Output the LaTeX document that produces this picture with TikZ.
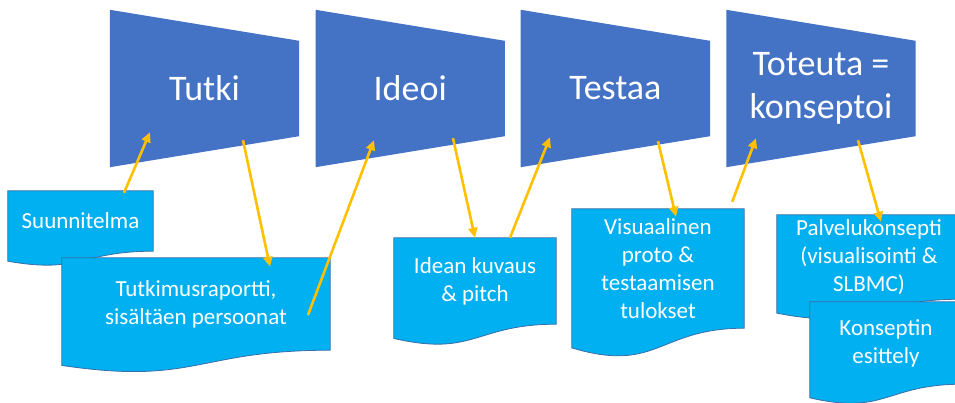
\documentclass[tikz,border=0pt]{standalone}
\usepackage{fontspec}
\setmainfont{Carlito}
\usetikzlibrary{arrows.meta,calc,positioning}
\definecolor{stageblue}{HTML}{4472C4}
\definecolor{doccyan}{HTML}{00B0F0}
\definecolor{docedge}{HTML}{3A6EA8}
\definecolor{arrowgold}{HTML}{FFC000}
\pgfdeclarelayer{background}
\pgfsetlayers{background,main}

\begin{document}
\begin{tikzpicture}[x=1pt,y=-1pt,>={Triangle[length=10pt,width=9pt]},
  stage/.style={minimum width=189pt,minimum height=157pt,inner sep=0pt,
    text=white,align=center,font=\fontsize{36}{43}\selectfont},
  doc/.style={inner sep=0pt,text=white,align=center,
    font=\fontsize{23}{28}\selectfont},
  docshape/.style={fill=doccyan,draw=docedge,line width=0.8pt},
  flow/.style={->,draw=arrowgold,line width=2.6pt}]
  \useasboundingbox (0,0) rectangle (955,403);
  % process stages
  \node[stage] (tutki) at (204.5,88.5) {Tutki};
  \node[stage] (ideoi) at (410.2,88.5) {Ideoi};
  \node[stage] (testaa) at (615.4,88.5) {Testaa};
  \node[stage] (toteuta) at (821,88.5) {Toteuta =\\konseptoi};
  % outputs
  \node[doc,minimum width=145pt,minimum height=60pt] (suunn) at (80.5,221) {Suunnitelma};
  \node[doc,minimum width=268pt,minimum height=92pt] (raport) at (196,304)
    {Tutkimusraportti,\\sisältäen persoonat};
  \node[doc,minimum width=162pt,minimum height=86pt] (idea) at (475,281)
    {Idean kuvaus\\\& pitch};
  \node[doc,minimum width=172pt,minimum height=119pt] (visu) at (658,268.5)
    {Visuaalinen\\proto \&\\testaamisen\\tulokset};
  \node[doc,minimum width=184pt,minimum height=84pt] (palvelu) at (869,257)
    {Palvelukonsepti\\(visualisointi \&\\SLBMC)};
  \node[doc,minimum width=152pt,minimum height=82pt] (esittely) at (886,343)
    {Konseptin\\esittely};
  \begin{pgfonlayer}{background}
    \foreach \n in {tutki,ideoi,testaa,toteuta}
      \fill[stageblue] (\n.north west) -- ($(\n.north east)+(0,31)$)
        -- ($(\n.south east)+(0,-31)$) -- (\n.south west) -- cycle;
    \foreach \n in {suunn,raport,idea,visu,palvelu,esittely}
      \draw[docshape] (\n.north west) -- (\n.north east) -- (\n.south east)
        .. controls (\n.south) and ($(\n.south)!-0.381!(\n.north)$)
        .. ($(\n.south west)!-0.165!(\n.north west)$) -- cycle;
  \end{pgfonlayer}
  % arrows between stages and outputs
  \draw[flow] ($(suunn.north)+(43.5,2)$) -- ($(tutki.south)+(-54.5,-35)$);
  \draw[flow] ($(tutki.south)+(38.5,-27)$) -- ($(raport.north)+(74,9)$);
  \draw[flow] ($(raport.center)+(112,11)$) -- ($(ideoi.south)+(-36.2,-27)$);
  \draw[flow] ($(ideoi.south)+(42.8,-29)$) -- (idea.north);
  \draw[flow] ($(idea.north)+(35,0)$) -- ($(testaa.south)+(-65.4,-30)$);
  \draw[flow] ($(testaa.south)+(42.6,-26)$) -- ($(visu.north)+(18,8)$);
  \draw[flow] ($(visu.north east)+(-12,-7)$) -- ($(toteuta.south)+(-65,-29)$);
  \draw[flow] ($(toteuta.south)+(37,-27)$) -- ($(palvelu.north)+(12,7)$);
\end{tikzpicture}
\end{document}
